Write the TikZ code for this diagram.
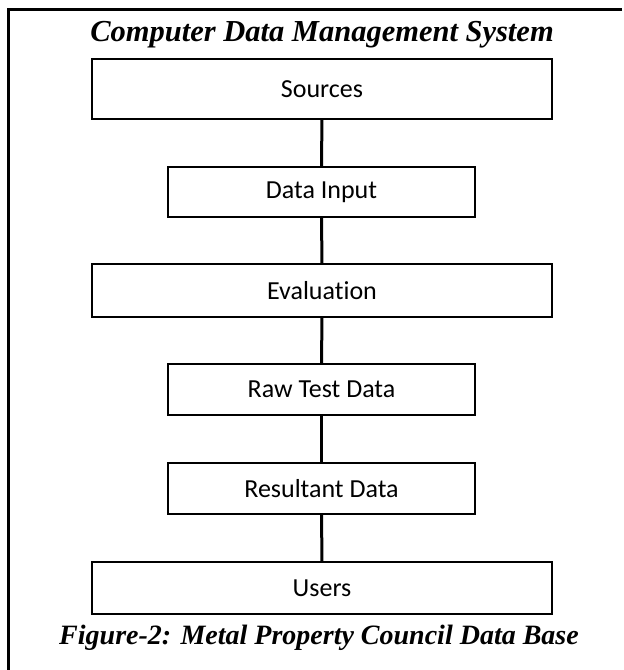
\documentclass[tikz,border=0pt]{standalone}
\usepackage{fontspec}
\setmainfont{Carlito}[Ligatures=NoCommon]
\newfontfamily\headfont{Liberation Serif}[BoldItalicFont={* Bold Italic}]
\begin{document}
\begin{tikzpicture}[x=1pt,y=-1pt,
  boxbase/.style={draw=black, line width=2.4pt, inner sep=0pt, font=\fontsize{26}{30}\selectfont},
  widebox/.style={boxbase, minimum width=460pt},
  narrowbox/.style={boxbase, minimum width=307pt},
  link/.style={line width=3pt},
  frameline/.style={line width=3pt},
  headtext/.style={inner sep=0pt, font=\headfont\bfseries\itshape\fontsize{#1}{#1}\selectfont}]
\useasboundingbox (0,0) rectangle (624,670);
\coordinate (ftop) at (8,9);
\coordinate (fright) at (622,9);
\coordinate (fbottom) at (8,672);
\draw[frameline] (fright) -- (ftop) -- (fbottom);
\node[headtext=30.5] (title) at (322,35) {Computer Data Management System};
\node[widebox, minimum height=60pt] (src) at (322,89) {Sources};
\node[narrowbox, minimum height=50pt] (din) at (321.5,192) {Data Input};
\node[widebox, minimum height=53pt] (eval) at (322,290.5) {Evaluation};
\node[narrowbox, minimum height=51pt] (raw) at (321.5,389.5) {Raw Test Data};
\node[narrowbox, minimum height=51pt] (res) at (321.5,488.5) {Resultant Data};
\node[widebox, minimum height=52pt] (users) at (322,588) {Users};
\node[headtext=28] (cap) at (319,638) {Figure-2: Metal Property Council Data Base};
\draw[link] (src) -- (din);
\draw[link] (din) -- (eval);
\draw[link] (eval) -- (raw);
\draw[link] (raw) -- (res);
\draw[link] (res) -- (users);
\end{tikzpicture}
\end{document}
